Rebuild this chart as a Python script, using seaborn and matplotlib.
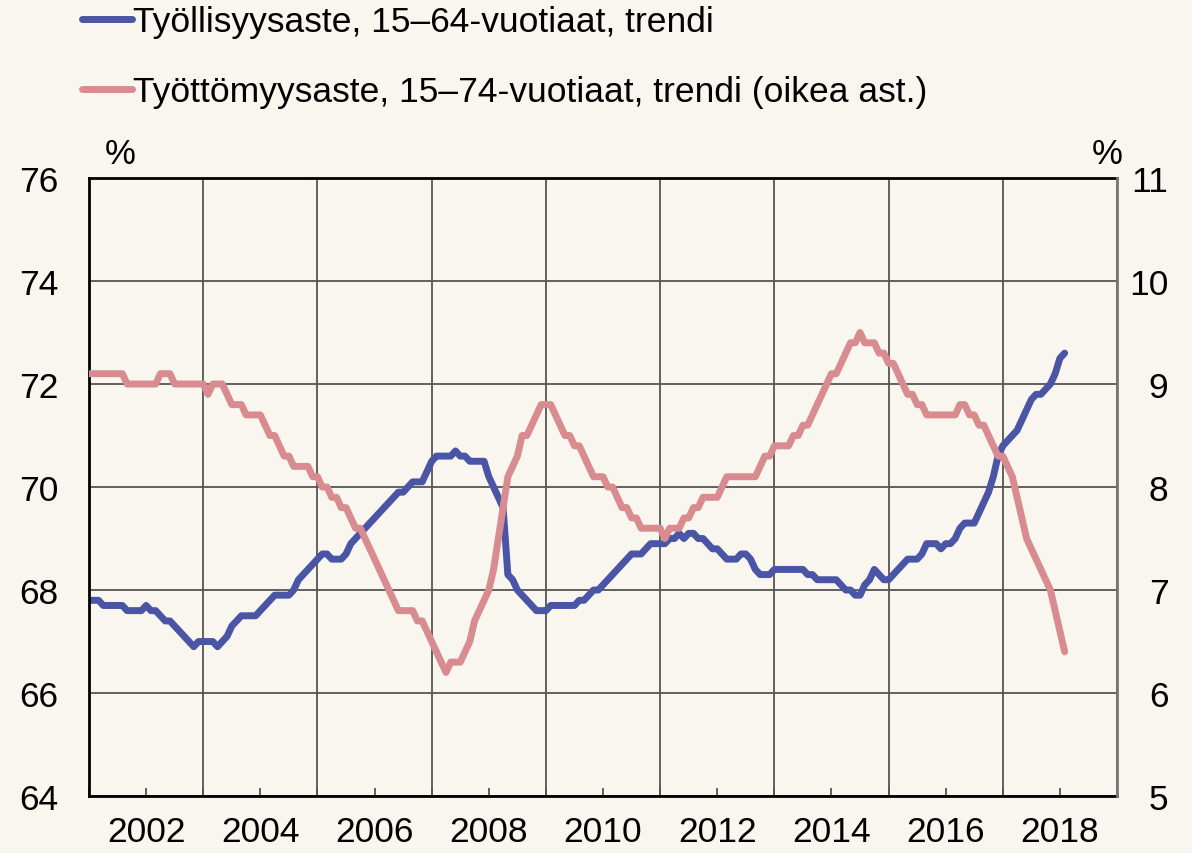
import numpy as np
import pandas as pd
import matplotlib
matplotlib.use('Agg')
import matplotlib.pyplot as plt
import seaborn as sns
from matplotlib.lines import Line2D

# Monthly trend values, Jan 2001 - Feb 2018
employment = [
    67.8, 67.8, 67.8, 67.7, 67.7, 67.7, 67.7, 67.7, 67.6, 67.6, 67.6, 67.6,  # 2001
    67.7, 67.6, 67.6, 67.5, 67.4, 67.4, 67.3, 67.2, 67.1, 67.0, 66.9, 67.0,  # 2002
    67.0, 67.0, 67.0, 66.9, 67.0, 67.1, 67.3, 67.4, 67.5, 67.5, 67.5, 67.5,  # 2003
    67.6, 67.7, 67.8, 67.9, 67.9, 67.9, 67.9, 68.0, 68.2, 68.3, 68.4, 68.5,  # 2004
    68.6, 68.7, 68.7, 68.6, 68.6, 68.6, 68.7, 68.9, 69.0, 69.1, 69.2, 69.3,  # 2005
    69.4, 69.5, 69.6, 69.7, 69.8, 69.9, 69.9, 70.0, 70.1, 70.1, 70.1, 70.3,  # 2006
    70.5, 70.6, 70.6, 70.6, 70.6, 70.7, 70.6, 70.6, 70.5, 70.5, 70.5, 70.5,  # 2007
    70.2, 70.0, 69.8, 69.6, 68.3, 68.2, 68.0, 67.9, 67.8, 67.7, 67.6, 67.6,  # 2008
    67.6, 67.7, 67.7, 67.7, 67.7, 67.7, 67.7, 67.8, 67.8, 67.9, 68.0, 68.0,  # 2009
    68.1, 68.2, 68.3, 68.4, 68.5, 68.6, 68.7, 68.7, 68.7, 68.8, 68.9, 68.9,  # 2010
    68.9, 68.9, 69.0, 69.0, 69.1, 69.0, 69.1, 69.1, 69.0, 69.0, 68.9, 68.8,  # 2011
    68.8, 68.7, 68.6, 68.6, 68.6, 68.7, 68.7, 68.6, 68.4, 68.3, 68.3, 68.3,  # 2012
    68.4, 68.4, 68.4, 68.4, 68.4, 68.4, 68.4, 68.3, 68.3, 68.2, 68.2, 68.2,  # 2013
    68.2, 68.2, 68.1, 68.0, 68.0, 67.9, 67.9, 68.1, 68.2, 68.4, 68.3, 68.2,  # 2014
    68.2, 68.3, 68.4, 68.5, 68.6, 68.6, 68.6, 68.7, 68.9, 68.9, 68.9, 68.8,  # 2015
    68.9, 68.9, 69.0, 69.2, 69.3, 69.3, 69.3, 69.5, 69.7, 69.9, 70.2, 70.6,  # 2016
    70.8, 70.9, 71.0, 71.1, 71.3, 71.5, 71.7, 71.8, 71.8, 71.9, 72.0, 72.2,  # 2017
    72.5, 72.6,                                                              # 2018
]

unemployment = [
    9.1, 9.1, 9.1, 9.1, 9.1, 9.1, 9.1, 9.1, 9.0, 9.0, 9.0, 9.0,  # 2001
    9.0, 9.0, 9.0, 9.1, 9.1, 9.1, 9.0, 9.0, 9.0, 9.0, 9.0, 9.0,  # 2002
    9.0, 8.9, 9.0, 9.0, 9.0, 8.9, 8.8, 8.8, 8.8, 8.7, 8.7, 8.7,  # 2003
    8.7, 8.6, 8.5, 8.5, 8.4, 8.3, 8.3, 8.2, 8.2, 8.2, 8.2, 8.1,  # 2004
    8.1, 8.0, 8.0, 7.9, 7.9, 7.8, 7.8, 7.7, 7.6, 7.6, 7.5, 7.4,  # 2005
    7.3, 7.2, 7.1, 7.0, 6.9, 6.8, 6.8, 6.8, 6.8, 6.7, 6.7, 6.6,  # 2006
    6.5, 6.4, 6.3, 6.2, 6.3, 6.3, 6.3, 6.4, 6.5, 6.7, 6.8, 6.9,  # 2007
    7.0, 7.2, 7.5, 7.8, 8.1, 8.2, 8.3, 8.5, 8.5, 8.6, 8.7, 8.8,  # 2008
    8.8, 8.8, 8.7, 8.6, 8.5, 8.5, 8.4, 8.4, 8.3, 8.2, 8.1, 8.1,  # 2009
    8.1, 8.0, 8.0, 7.9, 7.8, 7.8, 7.7, 7.7, 7.6, 7.6, 7.6, 7.6,  # 2010
    7.6, 7.5, 7.6, 7.6, 7.6, 7.7, 7.7, 7.8, 7.8, 7.9, 7.9, 7.9,  # 2011
    7.9, 8.0, 8.1, 8.1, 8.1, 8.1, 8.1, 8.1, 8.1, 8.2, 8.3, 8.3,  # 2012
    8.4, 8.4, 8.4, 8.4, 8.5, 8.5, 8.6, 8.6, 8.7, 8.8, 8.9, 9.0,  # 2013
    9.1, 9.1, 9.2, 9.3, 9.4, 9.4, 9.5, 9.4, 9.4, 9.4, 9.3, 9.3,  # 2014
    9.2, 9.2, 9.1, 9.0, 8.9, 8.9, 8.8, 8.8, 8.7, 8.7, 8.7, 8.7,  # 2015
    8.7, 8.7, 8.7, 8.8, 8.8, 8.7, 8.7, 8.6, 8.6, 8.5, 8.4, 8.3,  # 2016
    8.3, 8.2, 8.1, 7.9, 7.7, 7.5, 7.4, 7.3, 7.2, 7.1, 7.0, 6.8,  # 2017
    6.6, 6.4,                                                    # 2018
]

labels = ['Työllisyysaste, 15–64-vuotiaat, trendi',
          'Työttömyysaste, 15–74-vuotiaat, trendi (oikea ast.)']
year_labels = list(range(2002, 2019, 2))

BG = '#f9f5ef'
BLUE = '#4b55a6'
PINK = '#d98c8f'
GRID = '#555555'

months = pd.date_range('2001-01-01', periods=len(employment), freq='MS')
df = pd.DataFrame({
    'vuosi': months.year + (months.month - 1) / 12,
    'tyollisyys': employment,
    'tyottomyys': unemployment,
})

sns.set_theme(style='white', rc={'axes.facecolor': BG, 'figure.facecolor': BG,
                                 'text.color': 'black', 'xtick.color': 'black',
                                 'ytick.color': 'black'})
plt.rcParams['font.family'] = ['Liberation Sans', 'DejaVu Sans']

fig, ax = plt.subplots(figsize=(11.92, 8.54), dpi=100)
fig.subplots_adjust(left=0.0747, right=0.9371, bottom=0.0667, top=0.7904)
ax2 = ax.twinx()

sns.lineplot(data=df, x='vuosi', y='tyollisyys', ax=ax, color=BLUE, lw=5,
             solid_capstyle='round', legend=False)
sns.lineplot(data=df, x='vuosi', y='tyottomyys', ax=ax2, color=PINK, lw=5,
             solid_capstyle='round', legend=False)

# left axis
ax.set_xlim(2001, 2019)
ax.set_ylim(64, 76)
ax.set_yticks(range(64, 77, 2))
ax.set_xticks(year_labels)
ax.set_xticklabels([str(y) for y in year_labels])
ax.set_xticks(range(2001, 2020, 2), minor=True)
ax.set_xlabel('')
ax.set_ylabel('')
ax.grid(False)
ax.yaxis.grid(True, which='major', color=GRID, lw=1.3)
ax.xaxis.grid(True, which='minor', color=GRID, lw=1.3)
ax.tick_params(axis='x', which='both', direction='in', length=6, width=1.3,
               color=GRID, bottom=True, top=False, labelsize=25.5, pad=14,
               labelcolor='black')
ax.tick_params(axis='y', length=0, labelsize=25.5, pad=22, labelcolor='black')

# right axis
ax2.set_ylim(5, 11)
ax2.set_yticks(range(5, 12))
ax2.set_ylabel('')
ax2.grid(False)
ax2.tick_params(axis='y', length=0, labelsize=25.5, pad=37, labelcolor='black')
for lbl in ax2.get_yticklabels():
    lbl.set_horizontalalignment('right')

for s in ['left', 'top', 'bottom']:
    ax.spines[s].set_color('black')
    ax.spines[s].set_linewidth(2)
    ax2.spines[s].set_visible(False)
ax.spines['right'].set_visible(False)
ax2.spines['right'].set_color('#777777')
ax2.spines['right'].set_linewidth(2)

fig.text(120 / 1192, 1 - 155 / 854, '%', ha='center', va='center', fontsize=25, color='black')
fig.text(1107 / 1192, 1 - 155 / 854, '%', ha='center', va='center', fontsize=25, color='black')

handles = [Line2D([], [], color=BLUE, lw=5, solid_capstyle='round'),
           Line2D([], [], color=PINK, lw=5, solid_capstyle='round')]
fig.legend(handles, labels, loc='upper left', bbox_to_anchor=(82 / 1192, 1 - 6 / 854),
           frameon=False, fontsize=25.5, handlelength=1.4, handletextpad=0.05,
           labelspacing=1.05, borderaxespad=0, borderpad=0, labelcolor='black')

plt.savefig('out.png', dpi=100, facecolor=BG)
